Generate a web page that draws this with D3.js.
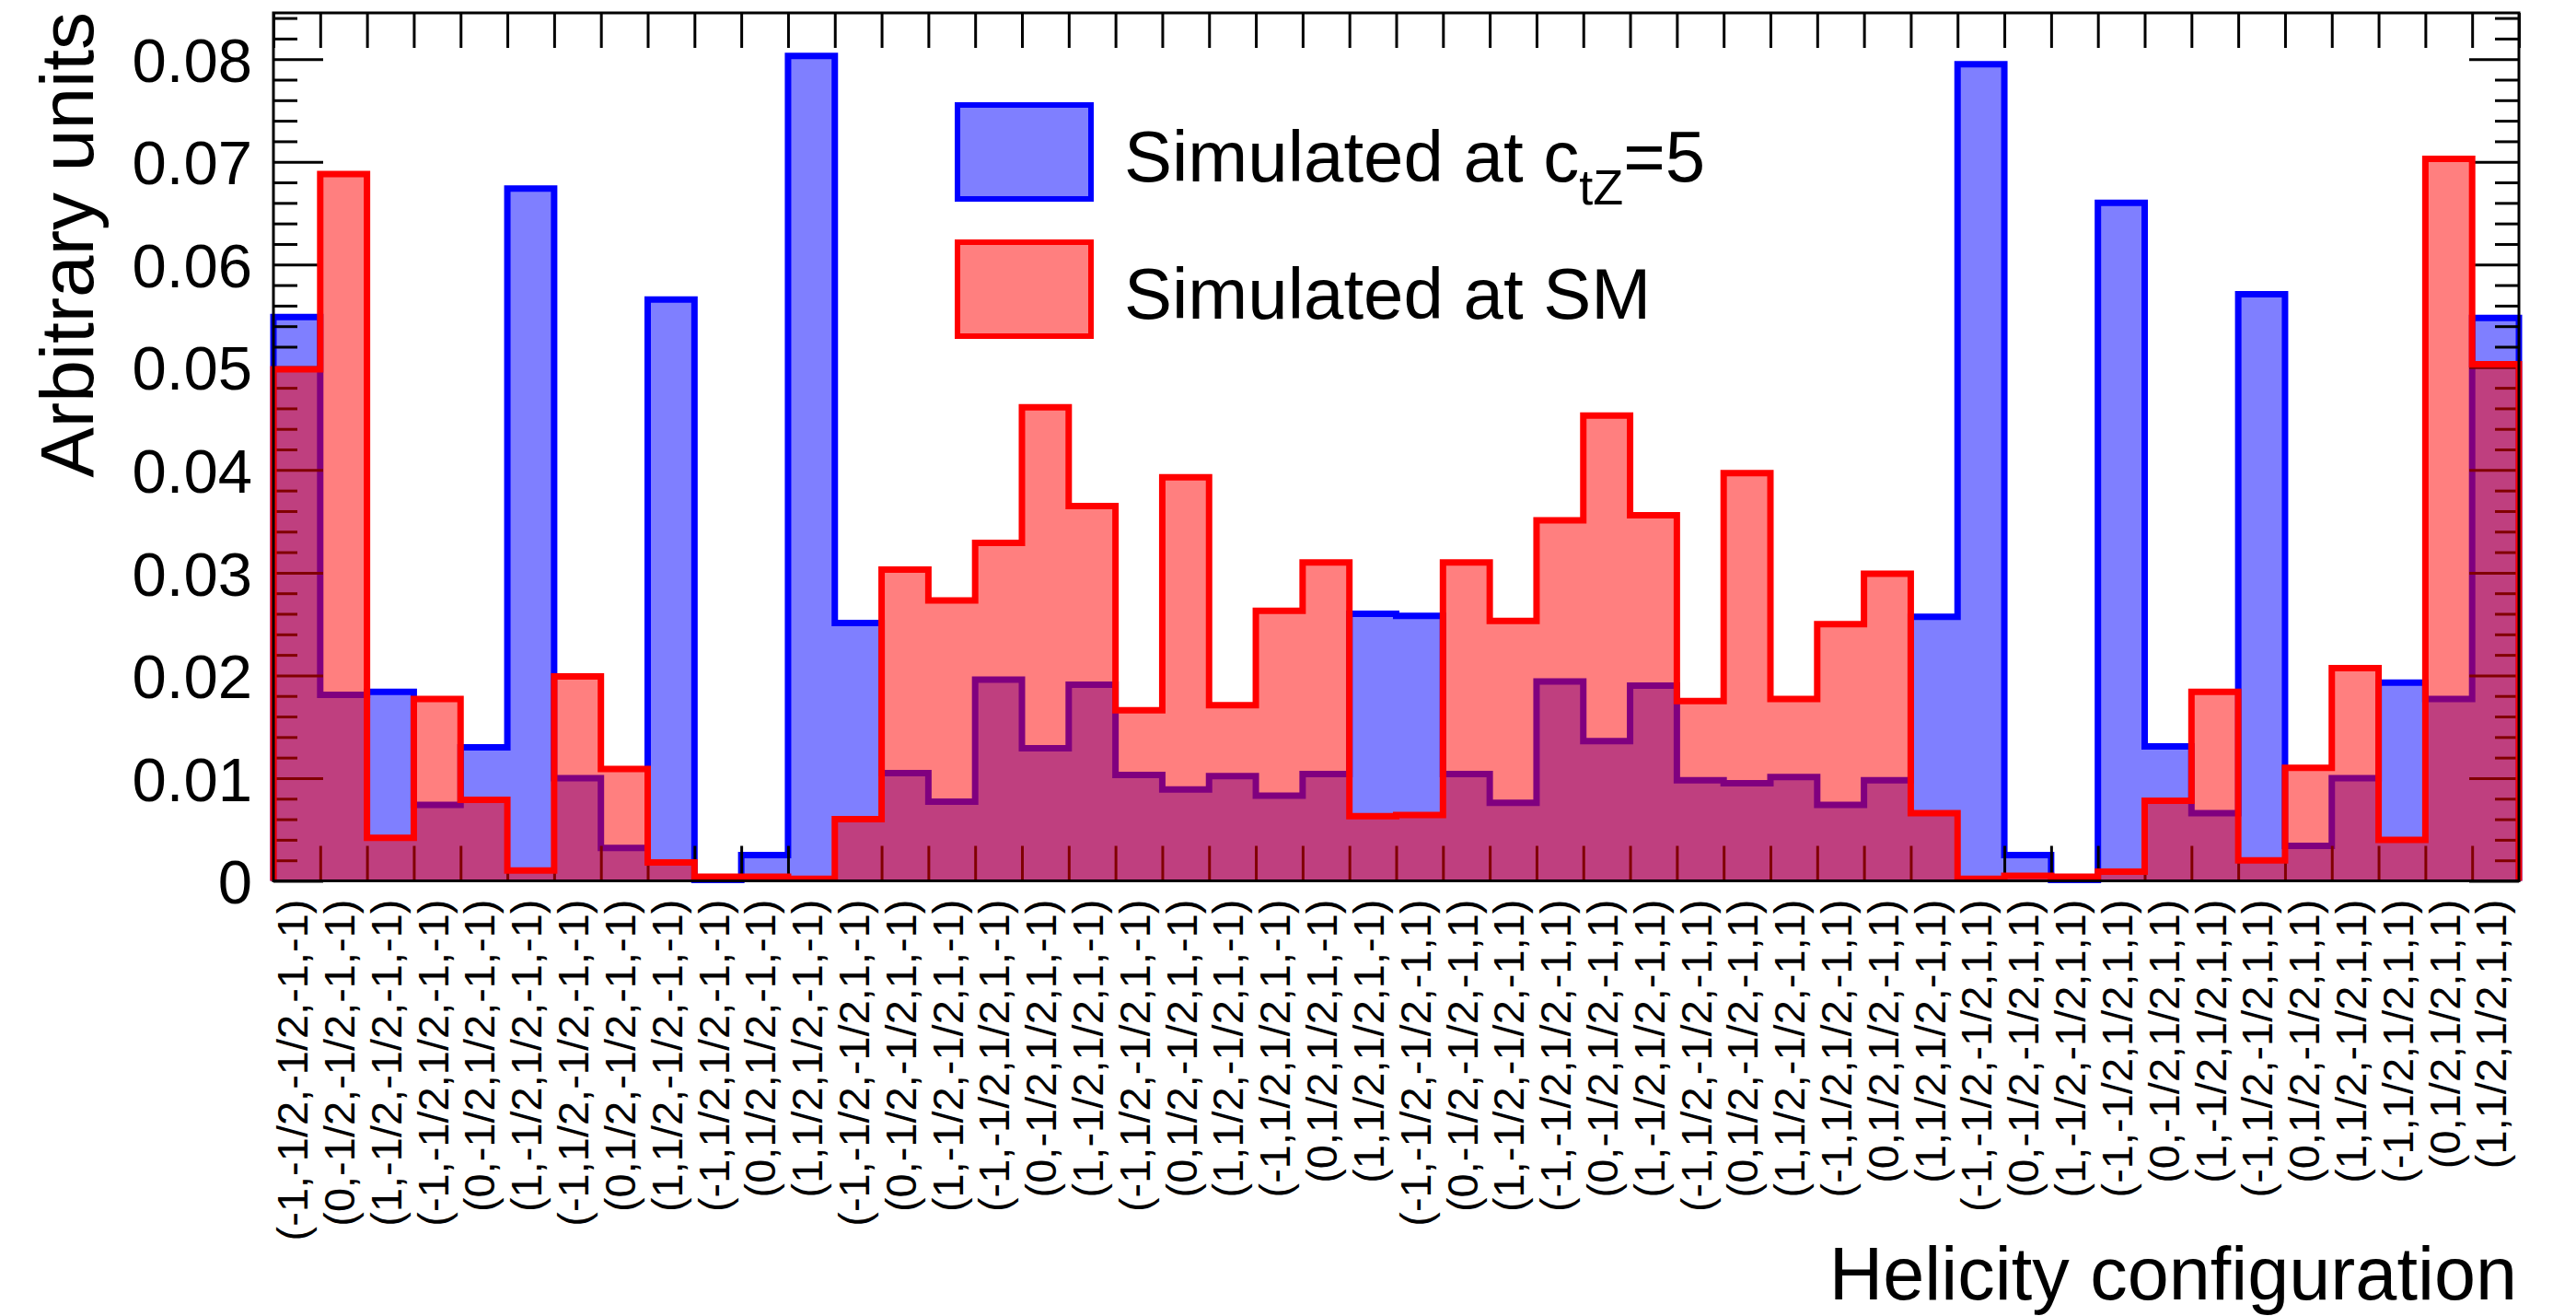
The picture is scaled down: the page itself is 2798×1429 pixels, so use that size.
<!DOCTYPE html>
<html>
<head>
<meta charset="utf-8">
<script src="https://cdn.jsdelivr.net/npm/d3@7"></script>
<style>
  html, body { margin: 0; padding: 0; background: #fff; }
  svg { display: block; }
  text { font-family: "Liberation Sans", Arial, Helvetica, sans-serif; }
</style>
</head>
<body>
<svg id="chart" width="2798" height="1429"></svg>
<script>
// Helicity configurations, one per histogram bin
const helicityLabels = [
  "(-1,-1/2,-1/2,-1,-1)", "(0,-1/2,-1/2,-1,-1)", "(1,-1/2,-1/2,-1,-1)",
  "(-1,-1/2,1/2,-1,-1)",  "(0,-1/2,1/2,-1,-1)",  "(1,-1/2,1/2,-1,-1)",
  "(-1,1/2,-1/2,-1,-1)",  "(0,1/2,-1/2,-1,-1)",  "(1,1/2,-1/2,-1,-1)",
  "(-1,1/2,1/2,-1,-1)",   "(0,1/2,1/2,-1,-1)",   "(1,1/2,1/2,-1,-1)",
  "(-1,-1/2,-1/2,1,-1)",  "(0,-1/2,-1/2,1,-1)",  "(1,-1/2,-1/2,1,-1)",
  "(-1,-1/2,1/2,1,-1)",   "(0,-1/2,1/2,1,-1)",   "(1,-1/2,1/2,1,-1)",
  "(-1,1/2,-1/2,1,-1)",   "(0,1/2,-1/2,1,-1)",   "(1,1/2,-1/2,1,-1)",
  "(-1,1/2,1/2,1,-1)",    "(0,1/2,1/2,1,-1)",    "(1,1/2,1/2,1,-1)",
  "(-1,-1/2,-1/2,-1,1)",  "(0,-1/2,-1/2,-1,1)",  "(1,-1/2,-1/2,-1,1)",
  "(-1,-1/2,1/2,-1,1)",   "(0,-1/2,1/2,-1,1)",   "(1,-1/2,1/2,-1,1)",
  "(-1,1/2,-1/2,-1,1)",   "(0,1/2,-1/2,-1,1)",   "(1,1/2,-1/2,-1,1)",
  "(-1,1/2,1/2,-1,1)",    "(0,1/2,1/2,-1,1)",    "(1,1/2,1/2,-1,1)",
  "(-1,-1/2,-1/2,1,1)",   "(0,-1/2,-1/2,1,1)",   "(1,-1/2,-1/2,1,1)",
  "(-1,-1/2,1/2,1,1)",    "(0,-1/2,1/2,1,1)",    "(1,-1/2,1/2,1,1)",
  "(-1,1/2,-1/2,1,1)",    "(0,1/2,-1/2,1,1)",    "(1,1/2,-1/2,1,1)",
  "(-1,1/2,1/2,1,1)",     "(0,1/2,1/2,1,1)",     "(1,1/2,1/2,1,1)"
];

// Normalised yields simulated at c_tZ = 5
const ctz5Values = [
  0.0549, 0.0181, 0.0184, 0.0074, 0.0130, 0.0674, 0.0100, 0.0032,
  0.0566, 0.0001, 0.0025, 0.0803, 0.0251, 0.0105, 0.0077, 0.0196,
  0.0129, 0.0191, 0.0103, 0.0089, 0.0102, 0.0083, 0.0104, 0.0260,
  0.0258, 0.0104, 0.0076, 0.0194, 0.0136, 0.0190, 0.0098, 0.0095,
  0.0101, 0.0074, 0.0098, 0.0257, 0.0795, 0.0025, 0.0001, 0.0660,
  0.0131, 0.0066, 0.0571, 0.0034, 0.0100, 0.0193, 0.0177, 0.0548
];

// Normalised yields simulated at the Standard Model point
const smValues = [
  0.0498, 0.0688, 0.0042, 0.0177, 0.0079, 0.0010, 0.0199, 0.0109,
  0.0018, 0.0004, 0.0004, 0.0002, 0.0060, 0.0303, 0.0273, 0.0329,
  0.0461, 0.0365, 0.0166, 0.0393, 0.0171, 0.0263, 0.0310, 0.0063,
  0.0064, 0.0310, 0.0253, 0.0351, 0.0453, 0.0356, 0.0175, 0.0397,
  0.0177, 0.0250, 0.0299, 0.0066, 0.0002, 0.0005, 0.0004, 0.0009,
  0.0078, 0.0184, 0.0020, 0.0110, 0.0207, 0.0040, 0.0703, 0.0503
];

const yMajorTicks = [0, 0.01, 0.02, 0.03, 0.04, 0.05, 0.06, 0.07, 0.08];
const yTickLabels = ["0", "0.01", "0.02", "0.03", "0.04", "0.05", "0.06", "0.07", "0.08"];
const yMinorTicks = d3.range(0, 43).map(i => i * 0.002).filter((v, i) => i % 5 !== 0);

const svg = d3.select("#chart");
const frame = { left: 297, right: 2736, top: 14, bottom: 956.5 };
const nBins = ctz5Values.length;

const x = d3.scaleLinear().domain([0, nBins]).range([frame.left, frame.right]);
const y = d3.scaleLinear().domain([0, 0.0845]).range([frame.bottom, frame.top]);

// Step outline of a histogram, starting and ending on the baseline
function stepPath(values, closed) {
  const p = d3.path();
  p.moveTo(x(0), y(0));
  values.forEach((v, i) => {
    p.lineTo(x(i), y(v));
    p.lineTo(x(i + 1), y(v));
  });
  p.lineTo(x(values.length), y(0));
  if (closed) p.closePath();
  return p.toString();
}

// c_tZ = 5 histogram
svg.append("path").attr("d", stepPath(ctz5Values, true))
  .attr("fill", "#0000ff").attr("fill-opacity", 0.5).attr("stroke", "none");
svg.append("path").attr("d", stepPath(ctz5Values, false))
  .attr("fill", "none").attr("stroke", "#0000ff").attr("stroke-width", 7)
  .attr("stroke-linejoin", "miter");

// Axis ticks (drawn between the two histograms)
const axes = svg.append("g").attr("class", "axes");
function styleAxis(g) {
  g.select(".domain").remove();
  g.selectAll(".tick line").attr("stroke", "#000").attr("stroke-width", 3);
}

axes.append("g").attr("transform", `translate(${frame.left},0)`)
  .call(d3.axisLeft(y).tickValues(yMajorTicks).tickSize(-54).tickPadding(23)
    .tickFormat((d, i) => yTickLabels[i]))
  .call(styleAxis)
  .call(g => g.selectAll(".tick text")
    .attr("font-size", 67).attr("fill", "#000").attr("dy", "0.36em")
    .style("font-family", '"Liberation Sans", Arial, sans-serif'));
axes.append("g").attr("transform", `translate(${frame.left},0)`)
  .call(d3.axisLeft(y).tickValues(yMinorTicks).tickSize(-26).tickFormat(""))
  .call(styleAxis);
axes.append("g").attr("transform", `translate(${frame.right},0)`)
  .call(d3.axisRight(y).tickValues(yMajorTicks).tickSize(-54).tickFormat(""))
  .call(styleAxis);
axes.append("g").attr("transform", `translate(${frame.right},0)`)
  .call(d3.axisRight(y).tickValues(yMinorTicks).tickSize(-26).tickFormat(""))
  .call(styleAxis);
axes.append("g").attr("transform", `translate(0,${frame.top})`)
  .call(d3.axisTop(x).tickValues(d3.range(nBins + 1)).tickSize(-38).tickFormat(""))
  .call(styleAxis);
axes.append("g").attr("transform", `translate(0,${frame.bottom})`)
  .call(d3.axisBottom(x).tickValues(d3.range(nBins + 1)).tickSize(-38).tickFormat(""))
  .call(styleAxis);

// Bin labels, rotated, under each bin centre
svg.append("g").attr("transform", `translate(0,${frame.bottom})`)
  .call(d3.axisBottom(x).tickValues(d3.range(nBins).map(i => i + 0.5)).tickSize(0)
    .tickFormat((d, i) => helicityLabels[i]))
  .call(g => g.select(".domain").remove())
  .call(g => g.selectAll(".tick text")
    .attr("transform", "rotate(-90)")
    .attr("x", -20).attr("y", 0).attr("dy", "0.24em")
    .attr("text-anchor", "end").attr("font-size", 47).attr("fill", "#000")
    .style("font-family", '"Liberation Sans", Arial, sans-serif'));

// SM histogram on top
svg.append("path").attr("d", stepPath(smValues, true))
  .attr("fill", "#ff0000").attr("fill-opacity", 0.5).attr("stroke", "none");
svg.append("path").attr("d", stepPath(smValues, false))
  .attr("fill", "none").attr("stroke", "#ff0000").attr("stroke-width", 7)
  .attr("stroke-linejoin", "miter");

// Frame
svg.append("rect")
  .attr("x", frame.left).attr("y", frame.top)
  .attr("width", frame.right - frame.left).attr("height", frame.bottom - frame.top)
  .attr("fill", "none").attr("stroke", "#000").attr("stroke-width", 3);

// Axis titles
svg.append("text")
  .attr("transform", "translate(101,13) rotate(-90)")
  .attr("text-anchor", "end").attr("font-size", 82).attr("fill", "#000")
  .text("Arbitrary units");
svg.append("text")
  .attr("x", 2734).attr("y", 1411)
  .attr("text-anchor", "end").attr("font-size", 81).attr("fill", "#000")
  .text("Helicity configuration");

// Legend
const legend = svg.append("g");
const legendEntries = [
  { color: "#0000ff", top: 114, baseline: 197 },
  { color: "#ff0000", top: 263, baseline: 346 }
];
legendEntries.forEach(e => {
  legend.append("rect")
    .attr("x", 1040).attr("y", e.top).attr("width", 145).attr("height", 102)
    .attr("fill", e.color).attr("fill-opacity", 0.5)
    .attr("stroke", e.color).attr("stroke-width", 6);
});
const t1 = legend.append("text").attr("x", 1221).attr("y", legendEntries[0].baseline)
  .attr("font-size", 78).attr("fill", "#000");
t1.append("tspan").text("Simulated at c");
t1.append("tspan").attr("font-size", 54).attr("dy", 25).text("tZ");
t1.append("tspan").attr("dy", -25).text("=5");
legend.append("text").attr("x", 1221).attr("y", legendEntries[1].baseline)
  .attr("font-size", 78).attr("fill", "#000").text("Simulated at SM");
</script>
</body>
</html>
